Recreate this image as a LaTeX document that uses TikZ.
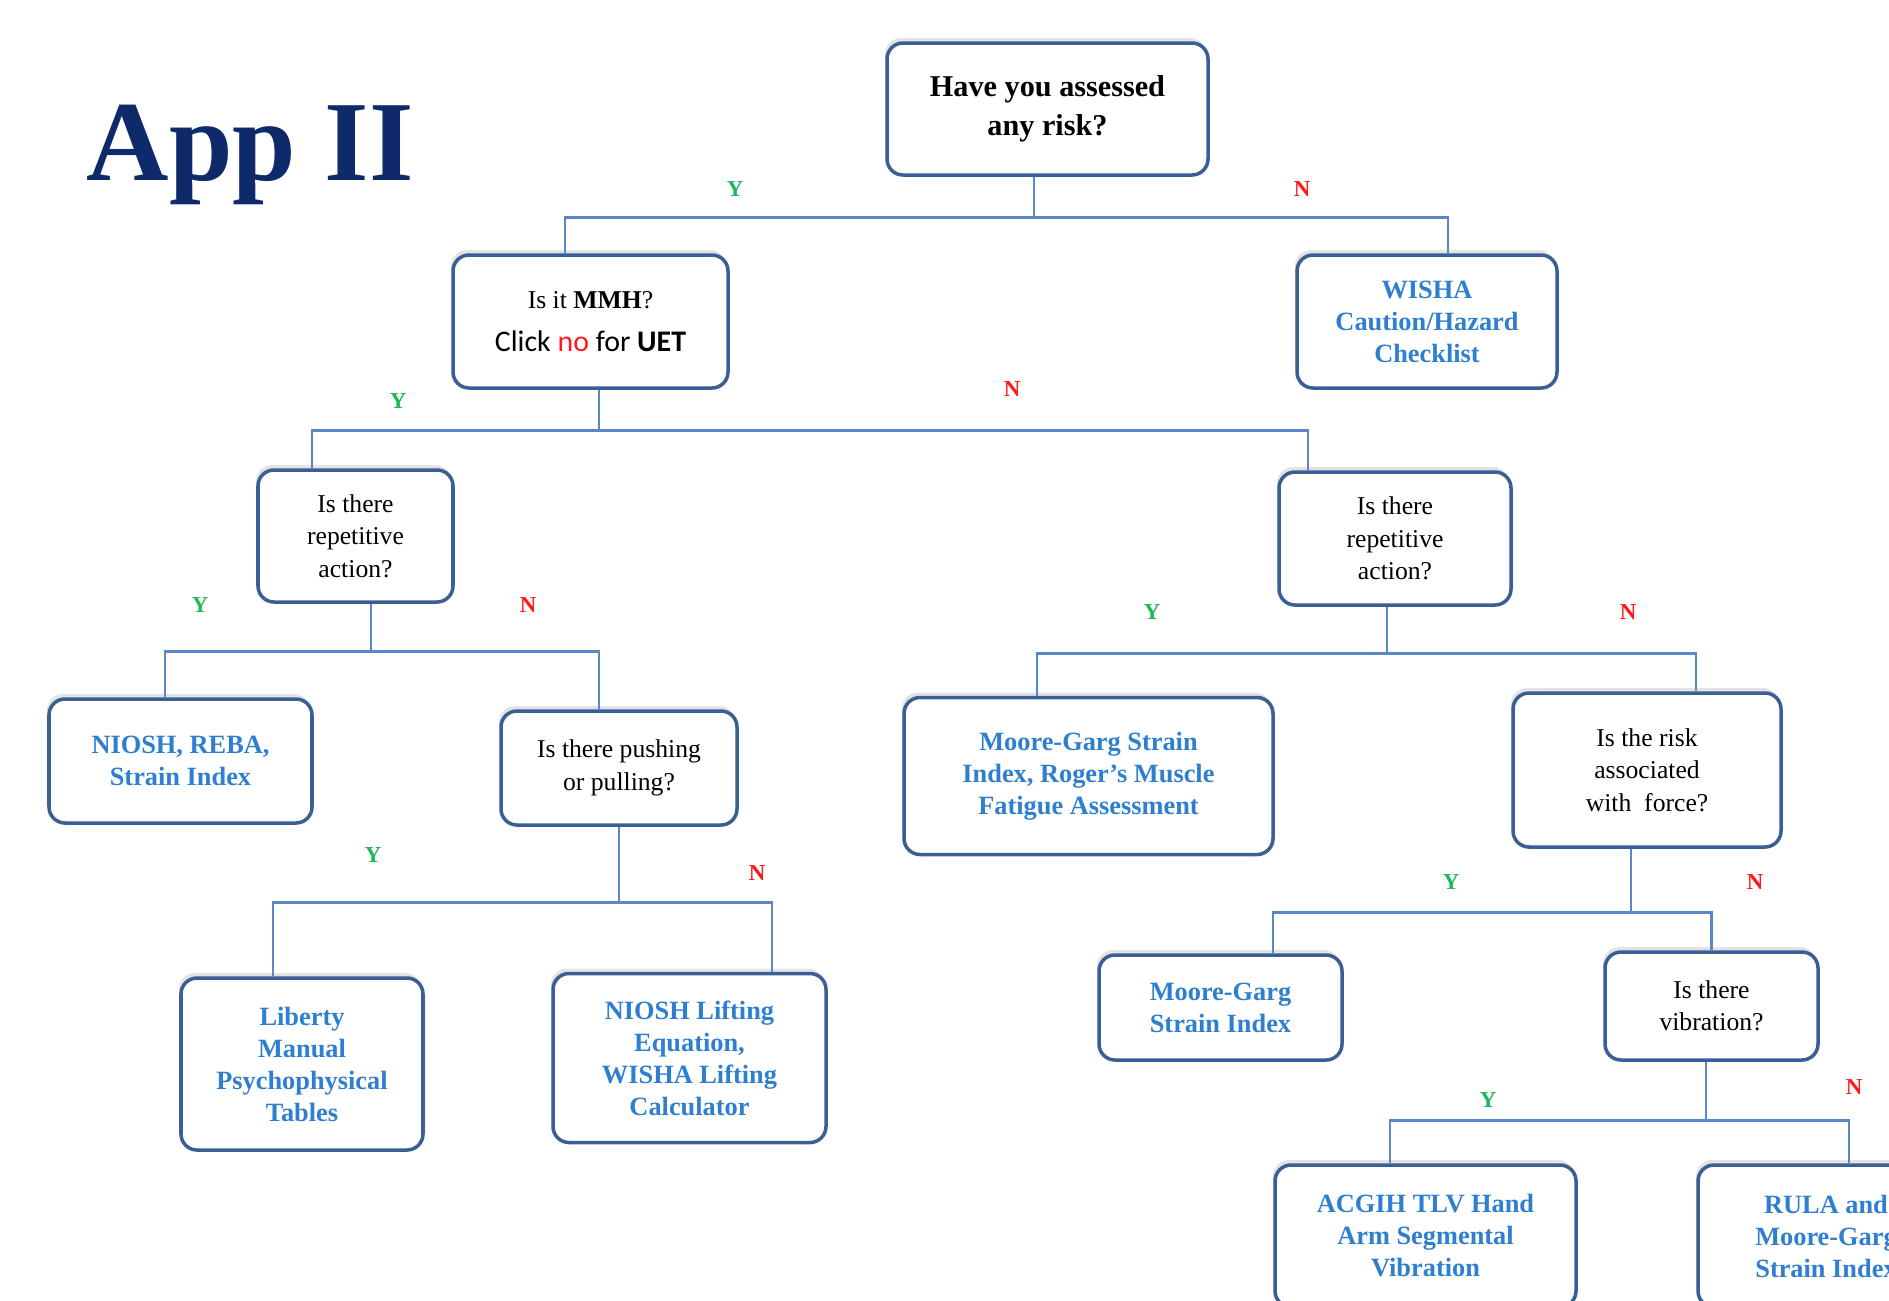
\documentclass[tikz,border=0pt]{standalone}
\usepackage{xcolor}
\usepackage{fontspec}
\setmainfont{Liberation Serif}
\newfontfamily\calibri{Carlito}
\usepackage{tikz}
\usetikzlibrary{positioning,shadows,calc}
\definecolor{navy}{HTML}{0E2A6B}
\definecolor{frame}{HTML}{3A5F94}
\definecolor{wire}{HTML}{5B87C9}
\definecolor{tool}{HTML}{2E7FCF}
\definecolor{yesgreen}{HTML}{1DB95A}
\definecolor{nored}{HTML}{FF1A1A}
\tikzset{
  qbox/.style={rectangle,rounded corners=1.6mm,draw=frame,line width=1pt,fill=white,
    align=center,inner sep=2pt,
    drop shadow={shadow xshift=-0.2mm,shadow yshift=0.5mm,opacity=0.22},
    font=\fontsize{7.3}{9.2}\selectfont},
  tbox/.style={qbox,text=tool,font=\bfseries\fontsize{7.5}{9.1}\selectfont},
  ln/.style={draw=wire,line width=0.8pt},
  ylbl/.style={text=yesgreen,inner sep=1pt,font=\bfseries\fontsize{6.5}{7}\selectfont},
  nlbl/.style={text=nored,inner sep=1pt,font=\bfseries\fontsize{6.5}{7}\selectfont},
}

\begin{document}
\begin{tikzpicture}[x=0.1mm,y=-0.1mm]
  \useasboundingbox (0,0) rectangle (1889,1300);
  \clip (0,0) rectangle (1889,1300);
  \node[anchor=base west,inner sep=0,text=navy,font=\bfseries\fontsize{32.5}{32.5}\selectfont] (title) at (86,180) {App II};
  % questions and tools
  \node[qbox,minimum width=32.1mm,minimum height=13.2mm,font=\bfseries\fontsize{8.6}{11}\selectfont] (root) at (1047.5,109) {Have you assessed\\any risk?};
  \node[qbox,minimum width=27.5mm,minimum height=13.3mm] (mmh) at (590.5,321.5) {Is it \textbf{MMH}?\\[3pt]{\calibri\fontsize{8.5}{10}\selectfont Click \textcolor{nored}{no} for \textbf{UET}}};
  \node[tbox,minimum width=26mm,minimum height=13.3mm] (wisha) at (1427,321.5) {WISHA\\Caution/Hazard\\Checklist};
  \node[qbox,minimum width=19.5mm,minimum height=13.2mm] (replft) at (355.5,536) {Is there\\repetitive\\action?};
  \node[qbox,minimum width=23.2mm,minimum height=13.3mm] (reprgt) at (1395,538.5) {Is there\\repetitive\\action?};
  \node[tbox,minimum width=26.3mm,minimum height=12.4mm] (nrs) at (180.5,761) {NIOSH, REBA,\\Strain Index};
  \node[qbox,minimum width=23.6mm,minimum height=11.4mm] (push) at (619,768) {Is there pushing\\or pulling?};
  \node[tbox,minimum width=24.2mm,minimum height=17.2mm] (liberty) at (302,1064) {Liberty\\Manual\\Psychophysical\\Tables};
  \node[tbox,minimum width=27.3mm,minimum height=16.9mm] (lifting) at (689.5,1058) {NIOSH Lifting\\Equation,\\WISHA Lifting\\Calculator};
  \node[tbox,minimum width=36.9mm,minimum height=15.7mm] (mgroger) at (1088.5,776) {Moore-Garg Strain\\Index, Roger's Muscle\\Fatigue Assessment};
  \node[qbox,minimum width=26.8mm,minimum height=15.4mm] (force) at (1647,770) {Is the risk\\associated\\with\ \ force?};
  \node[tbox,minimum width=24.3mm,minimum height=10.5mm] (mgsi) at (1220.5,1007.5) {Moore-Garg\\Strain Index};
  \node[qbox,minimum width=21.3mm,minimum height=10.8mm] (vib) at (1711.5,1006) {Is there\\vibration?};
  \node[tbox,minimum width=30.1mm,minimum height=14.2mm] (acgih) at (1425.5,1236) {ACGIH TLV Hand\\Arm Segmental\\Vibration};
  \node[tbox,minimum width=25.6mm,minimum height=14.2mm] (rula) at (1826,1236) {RULA and\\Moore-Garg\\Strain Index};
  % branches: parent/stem shift/stem length/yes child/shift/no child/shift
  \foreach \p/\ps/\pl/\a/\as/\b/\bs in {root/-1.35/4.1/mmh/-2.55/wisha/2.1,
      mmh/0.85/4.1/replft/-4.35/reprgt/-8.7, replft/1.55/4.8/nrs/-1.55/push/-2,
      push/0/7.6/liberty/-2.9/lifting/8.25, reprgt/-0.8/4.7/mgroger/-5.15/force/4.9,
      force/-1.6/6.4/mgsi/5.25/vib/0, vib/-0.55/5.9/acgih/-3.55/rula/2.3} {
    \draw[ln] ([xshift=\ps mm]\p.south) -- ++(0,-\pl mm) coordinate (bus);
    \draw[ln] ([xshift=\as mm]\a.north) |- (bus) -| ([xshift=\bs mm]\b.north);
  }
  \foreach \n/\x/\y in {root/735/189, mmh/398/401, replft/200/605, push/373/855,
      reprgt/1152/612, force/1451/882, vib/1488/1100}
    \node[ylbl] (y\n) at (\x,\y) {Y};
  \foreach \n/\x/\y in {root/1302/189, mmh/1012/389, replft/528/605, push/757/873,
      reprgt/1628/612, force/1755/882, vib/1854/1087}
    \node[nlbl] (n\n) at (\x,\y) {N};
\end{tikzpicture}
\end{document}
